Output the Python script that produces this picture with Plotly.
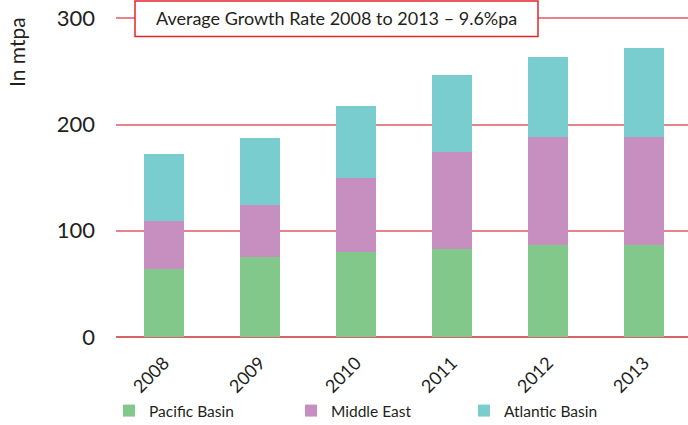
import plotly.graph_objects as go

years = ["2008", "2009", "2010", "2011", "2012", "2013"]
pacific = [64, 75, 80.5, 83, 87, 87]
middle_east = [45.5, 49.5, 69.5, 91.5, 101, 101.5]
atlantic = [63, 63, 67.5, 72, 76, 84]
y_ticks = [0, 100, 200, 300]

FONT = "Lato"
TXT = "#231f20"

fig = go.Figure()
fig.add_bar(x=years, y=pacific, name="Pacific Basin", marker_color="#82C88A",
            marker_line_width=0, legend="legend")
fig.add_bar(x=years, y=middle_east, name="Middle East", marker_color="#C78EC0",
            marker_line_width=0, legend="legend2")
fig.add_bar(x=years, y=atlantic, name="Atlantic Basin", marker_color="#79CDCF",
            marker_line_width=0, legend="legend3")

leg_common = dict(orientation="h", yanchor="middle", xanchor="left",
                  xref="container", yref="container",
                  font=dict(family=FONT, size=15.5, color=TXT),
                  bgcolor="rgba(0,0,0,0)", itemwidth=30)

def cx(p):
    return p / 688.0

W = 572.0
def px2x(p):
    return (p - 116) / W

LEG_Y = (425 - 411) / 425.0

fig.update_layout(
    width=688, height=425,
    margin=dict(l=116, r=0, t=0, b=88),
    plot_bgcolor="white", paper_bgcolor="white",
    barmode="stack", bargap=0.59, showlegend=True,
    font=dict(family=FONT, color=TXT),
    legend=dict(leg_common, x=cx(109), y=LEG_Y),
    legend2=dict(leg_common, x=cx(291), y=LEG_Y),
    legend3=dict(leg_common, x=cx(464), y=LEG_Y),
    xaxis=dict(range=[-0.5, 5.458], tickangle=-45, showgrid=False,
               tickfont=dict(family=FONT, size=18, color=TXT), ticks="",
               ticklabelstandoff=11, showline=False, automargin=False),
    yaxis=dict(range=[0, 317.3], tickvals=y_ticks, showgrid=True,
               gridcolor="#E5848A", gridwidth=2, zeroline=True,
               zerolinecolor="#D96464", zerolinewidth=2,
               tickfont=dict(family=FONT, size=22, color=TXT),
               ticklabelstandoff=20, showline=False, automargin=False),
)

# growth-rate box
fig.add_shape(type="rect", xref="paper", yref="paper",
              x0=px2x(135), x1=px2x(538), y0=(337.3 - 36.5) / 337.3, y1=(337.3 - 1) / 337.3,
              line=dict(color="#E3242B", width=1.5), fillcolor="white", layer="above")
fig.add_annotation(xref="paper", yref="paper", x=px2x(336.5), y=(337.3 - 18.5) / 337.3,
                   text="Average Growth Rate 2008 to 2013 \u2013 9.6%pa", showarrow=False,
                   font=dict(family=FONT, size=18, color=TXT),
                   xanchor="center", yanchor="middle")
fig.add_annotation(xref="paper", yref="paper", x=px2x(17), y=(337.3 - 52) / 337.3,
                   text="In mtpa", showarrow=False, textangle=-90,
                   font=dict(family=FONT, size=21, color=TXT),
                   xanchor="center", yanchor="middle")

fig.write_html("out.html")
